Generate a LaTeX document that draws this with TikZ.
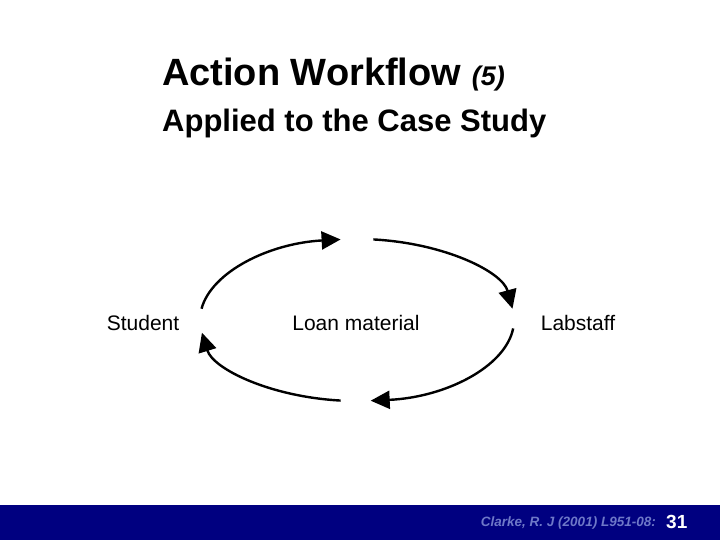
\documentclass[tikz,border=0pt]{standalone}
\usepackage{fontspec}
\setmainfont{Liberation Sans}
\usetikzlibrary{arrows.meta}
\definecolor{navy}{RGB}{0,0,128}
\definecolor{foot}{RGB}{110,120,200}
\begin{document}
\begin{tikzpicture}[x=1pt,y=-1pt,
  arc/.style={line width=2.4pt,-{Triangle[length=19pt,width=18pt]}},
  lab/.style={font=\fontsize{21}{24}\selectfont}]
\useasboundingbox (0,0) rectangle (720,540);
\fill[white] (0,0) rectangle (720,540);
\fill[navy] (0,505) rectangle (720,540);
\node[anchor=west,inner sep=0] (t1) at (162,75) {\fontsize{38}{42}\selectfont\bfseries Action Workflow \fontsize{27}{30}\selectfont\itshape (5)};
\node[anchor=west,inner sep=0] (t2) at (162,123) {\fontsize{31}{34}\selectfont\bfseries Applied to the Case Study};
\node[lab] (s) at (143,323) {Student};
\node[lab] (m) at (356,323) {Loan material};
\node[lab] (l) at (578,323) {Labstaff};
\coordinate (c) at (357,320);
\draw[arc] ([shift={(172:157 and -81)}]c) arc[start angle=172,end angle=96,x radius=157,y radius=-81];
\draw[arc] ([shift={(84:157 and -81)}]c) arc[start angle=84,end angle=8,x radius=157,y radius=-81];
\draw[arc] ([shift={(-6:157 and -81)}]c) arc[start angle=-6,end angle=-85,x radius=157,y radius=-81];
\draw[arc] ([shift={(-96:157 and -81)}]c) arc[start angle=-96,end angle=-171,x radius=157,y radius=-81];
\node[anchor=east,inner sep=0,text=foot] (f) at (656,523) {\fontsize{13.5}{15}\selectfont\bfseries\itshape Clarke, R. J (2001) L951-08:};
\node[anchor=west,inner sep=0,text=white] (n) at (666,522) {\fontsize{19}{22}\selectfont\bfseries 31};
\end{tikzpicture}
\end{document}
